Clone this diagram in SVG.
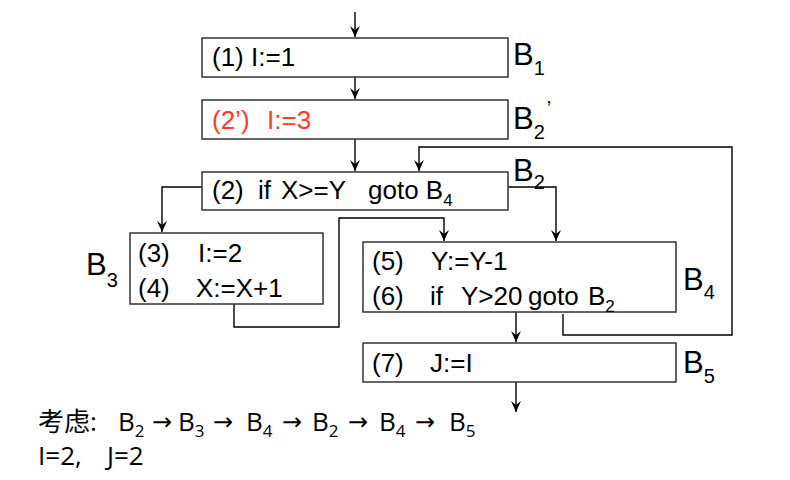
<svg xmlns="http://www.w3.org/2000/svg" width="790" height="480" viewBox="0 0 790 480">
<style>
.box{fill:#fff;stroke:#333;stroke-width:1.5}
.t{font-family:"Liberation Sans",Arial,sans-serif;font-size:26px;fill:#000}
.red{fill:#ff3c1e}
.sub{font-size:17px}
.lab{font-family:"Liberation Sans",Arial,sans-serif;font-size:31px;fill:#000}
.labsub{font-size:20px}
.c{fill:none;stroke:#000;stroke-width:1.4}
.note{font-family:"Open Sans","Noto Sans CJK SC",sans-serif;font-size:26px;fill:#000}
.ns{font-size:17px}
.arr{font-family:"DejaVu Sans",sans-serif;font-size:24px}
</style>
<defs>
<marker id="ah" viewBox="-12 -6 13 12" refX="0" refY="0" markerWidth="13" markerHeight="12" markerUnits="userSpaceOnUse" orient="auto">
<path d="M0,0 L-11,-5 L-7,0 L-11,5 Z" fill="#000"/>
</marker>
</defs>
<g id="connectors">
<path class="c" d="M355,12 V37" marker-end="url(#ah)"/>
<path class="c" d="M355,77 V99" marker-end="url(#ah)"/>
<path class="c" d="M355,139 V171" marker-end="url(#ah)"/>
<path class="c" d="M563,314 V335 H732 V147 H419 V171" marker-end="url(#ah)"/>
<path class="c" d="M508,187 H556 V241" marker-end="url(#ah)"/>
<path class="c" d="M202,187 H162 V232" marker-end="url(#ah)"/>
<path class="c" d="M234,304 V327 H339 V218 H444 V241" marker-end="url(#ah)"/>
<path class="c" d="M516,312 V342" marker-end="url(#ah)"/>
<path class="c" d="M516,382 V412" marker-end="url(#ah)"/>
</g>
<g id="B1">
<rect class="box" x="202" y="38" width="306" height="39"/>
<text class="t" x="212" y="66">(1) I:=1</text>
<text class="lab" x="513" y="65">B<tspan class="labsub" dy="10">1</tspan></text>
</g>
<g id="B2prime">
<rect class="box" x="202" y="100" width="306" height="39"/>
<text class="t red" x="212" y="129">(2’)<tspan x="267">I:=3</tspan></text>
<text class="lab" x="513" y="129">B<tspan class="labsub" dy="10">2</tspan><tspan class="labsub" dy="-24" dx="2">’</tspan></text>
</g>
<g id="B2">
<rect class="box" x="202" y="172" width="306" height="38"/>
<text class="t" x="212" y="199">(2)<tspan x="258">if</tspan><tspan x="281">X&gt;=Y</tspan><tspan x="368">goto B</tspan><tspan class="sub" dy="7">4</tspan></text>
<text class="lab" x="513" y="181">B<tspan class="labsub" dy="8">2</tspan></text>
</g>
<g id="B3">
<rect class="box" x="130" y="233" width="193" height="71"/>
<text class="t" x="138" y="262">(3)<tspan x="198">I:=2</tspan></text>
<text class="t" x="138" y="297">(4)<tspan x="196">X:=X+1</tspan></text>
<text class="lab" x="86" y="275">B<tspan class="labsub" dy="12">3</tspan></text>
</g>
<g id="B4">
<rect class="box" x="363" y="242" width="313" height="70"/>
<text class="t" x="372" y="270">(5)<tspan x="431">Y:=Y-1</tspan></text>
<text class="t" x="372" y="305">(6)<tspan x="430">if</tspan><tspan x="461">Y&gt;20</tspan><tspan x="528">goto</tspan><tspan x="588">B</tspan><tspan class="sub" dy="7">2</tspan></text>
<text class="lab" x="683" y="290">B<tspan class="labsub" dy="9">4</tspan></text>
</g>
<g id="B5">
<rect class="box" x="363" y="343" width="313" height="39"/>
<text class="t" x="372" y="372">(7)<tspan x="430">J:=I</tspan></text>
<text class="lab" x="683" y="373">B<tspan class="labsub" dy="10">5</tspan></text>
</g>
<g id="note">
<text class="note" x="38" y="431">考虑:<tspan x="118">B</tspan><tspan class="ns" dy="6">2</tspan><tspan class="arr" x="152" dy="-7">→</tspan><tspan x="178" dy="1">B</tspan><tspan class="ns" dy="6">3</tspan><tspan class="arr" x="213" dy="-7">→</tspan><tspan x="246" dy="1">B</tspan><tspan class="ns" dy="6">4</tspan><tspan class="arr" x="282" dy="-7">→</tspan><tspan x="312" dy="1">B</tspan><tspan class="ns" dy="6">2</tspan><tspan class="arr" x="348" dy="-7">→</tspan><tspan x="379" dy="1">B</tspan><tspan class="ns" dy="6">4</tspan><tspan class="arr" x="415" dy="-7">→</tspan><tspan x="449" dy="1">B</tspan><tspan class="ns" dy="6">5</tspan></text>
<text class="note" x="38" y="465">I=2,<tspan x="107">J=2</tspan></text>
</g>
</svg>
